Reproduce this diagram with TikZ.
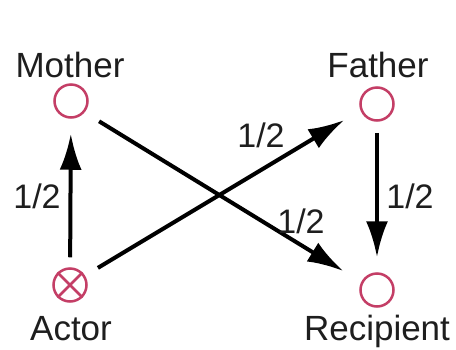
\documentclass[tikz,border=0pt]{standalone}
\usepackage{fontspec}
\setmainfont{Liberation Sans}
\usetikzlibrary{arrows.meta}
\definecolor{ringred}{RGB}{196,62,102}
\definecolor{inkgray}{RGB}{30,30,30}
\begin{document}
\begin{tikzpicture}[x=1pt,y=-1pt,
  person/.style={circle,draw=ringred,line width=2.5pt,minimum size=33pt,inner sep=0pt},
  caption/.style={anchor=base,text=inkgray,font=\fontsize{35}{40}\selectfont,inner sep=0pt},
  share/.style={anchor=base,text=inkgray,font=\fontsize{34}{40}\selectfont,inner sep=0pt},
  link/.style={line width=4pt,draw=black,-{Latex[length=36pt,width=22pt]}}]
  \useasboundingbox[fill=white] (0,0) rectangle (456,349);

  % relatives
  \node[person] (mother) at (71,101) {};
  \node[person] (father) at (377,104) {};
  \node[person] (actor) at (70,285) {};
  \node[person] (recipient) at (377,290) {};
  \draw[ringred,line width=2.5pt] (actor.45) -- (actor.225) (actor.135) -- (actor.-45);

  % names
  \node[caption] (tmother) at (70,77) {Mother};
  \node[caption] (tfather) at (378,77) {Father};
  \node[caption] (tactor) at (71,340) {Actor};
  \node[caption] (trecipient) at (377,340) {Recipient};

  % relatedness paths
  \draw[link,shorten <=10pt,shorten >=15pt] (actor) -- (mother);
  \draw[link,shorten <=11pt,shorten >=15pt] (father) -- (recipient);
  \draw[link,shorten <=15pt,shorten >=19pt] (actor.32) -- (father.201);
  \draw[link,shorten <=17pt,shorten >=21pt] (mother.-40) -- (recipient.153);

  % coefficients
  \node[share] (s1) at (37,208) {1/2};
  \node[share] (s2) at (410,208) {1/2};
  \node[share] (s3) at (261,147) {1/2};
  \node[share] (s4) at (301,233) {1/2};
\end{tikzpicture}
\end{document}
